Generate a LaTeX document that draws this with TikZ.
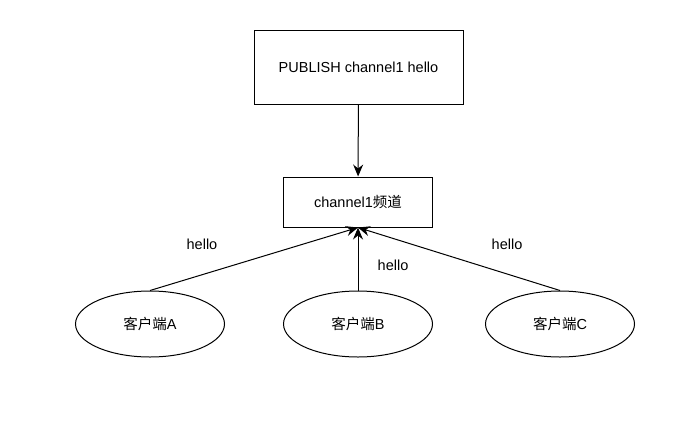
\documentclass[tikz,border=0pt]{standalone}
\usepackage{fontspec}
\setmainfont{Liberation Sans}
\newfontfamily\cjk{Noto Sans CJK SC}
\usetikzlibrary{arrows.meta, shapes.geometric}
\newcommand\clienty{324}
\newcommand\fontpx{\fontsize{14.5pt}{17pt}\selectfont}

\begin{document}
\begin{tikzpicture}[yscale = -1, x = 1pt, y = 1pt, line width = 1pt, font = \fontpx,
	>={Stealth[length = 12pt, width = 10pt, inset = 4pt]}]
	\useasboundingbox (0, 0) rectangle (700, 420);

	% Kaesten
	\node [draw, minimum width = 209pt, minimum height = 74pt] (publish) at (358.5, 67.5) {PUBLISH channel1 hello};
	\node [draw, minimum width = 149pt, minimum height = 50pt] (channel) at (358, 202) {channel1{\cjk 频道}};

	% Clients
	\foreach \name/\x/\letter in {clientA/150/A, clientB/358/B, clientC/560/C} {
		\node [draw, ellipse, minimum width = 149pt, minimum height = 66pt] (\name) at (\x, \clienty) {{\cjk 客户端}\letter};
	}

	% Pfeile
	\draw [->] (publish) -- (channel);
	\foreach \name in {clientA, clientB, clientC} {
		\draw [->] (\name.north) -- (channel.south);
	}

	% Beschriftung
	\node (helloA) at (202, 244) {hello};
	\node (helloB) at (393, 265) {hello};
	\node (helloC) at (507, 244) {hello};
\end{tikzpicture}
\end{document}
